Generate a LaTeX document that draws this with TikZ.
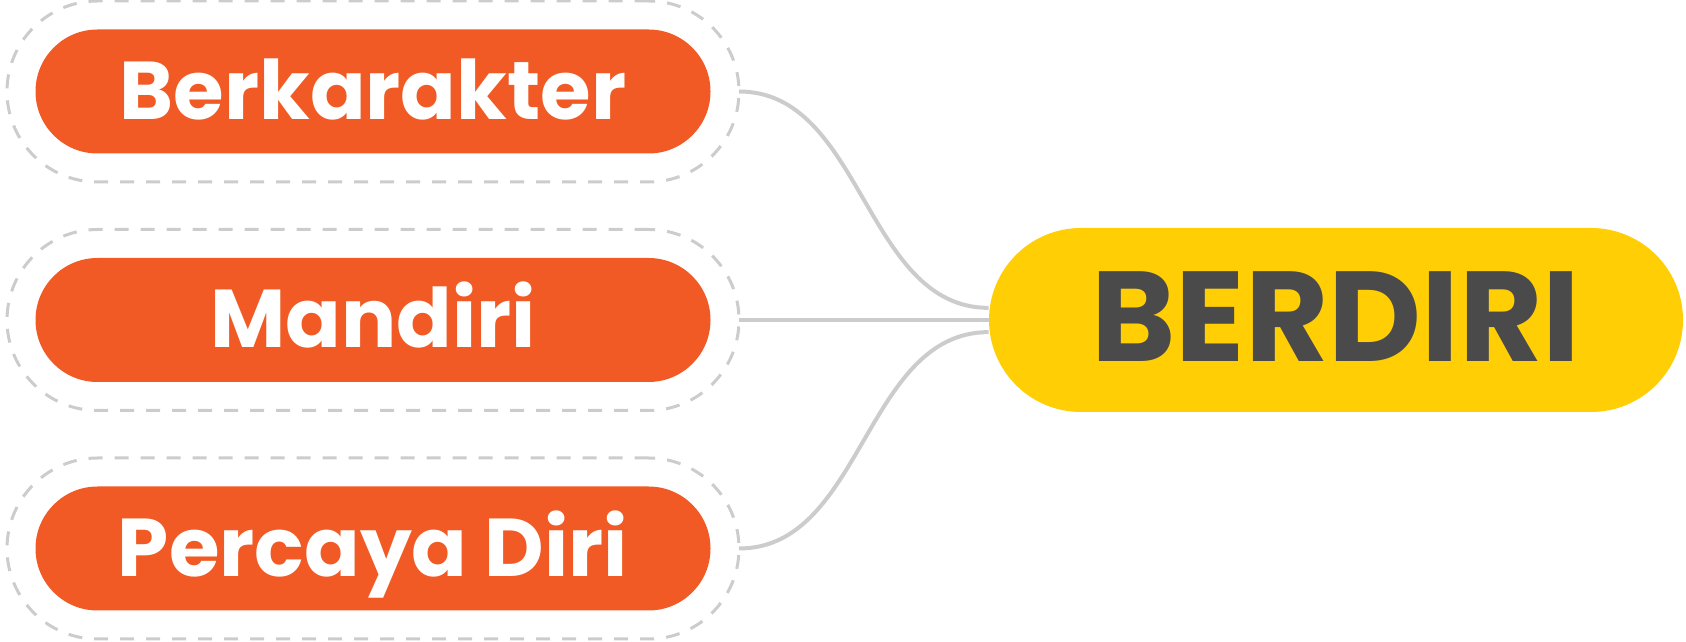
\documentclass[tikz,border=0pt]{standalone}
\usepackage{fontspec}
\setmainfont{Poppins}
\usetikzlibrary{fit}

\definecolor{leafred}{HTML}{F15A24}
\definecolor{rootyellow}{HTML}{FFCE05}
\definecolor{linegray}{HTML}{CCCCCC}
\definecolor{textgray}{HTML}{4A4A4A}

\tikzset{
  root/.style={fill=rootyellow, text=textgray, font=\fontsize{64}{64}\selectfont\bfseries,
    minimum width=347pt, minimum height=92pt, rounded corners=46pt, inner sep=0pt,
    text height=45pt, text depth=3pt},
  leaf/.style={fill=leafred, text=white, font=\fontsize{41}{41}\selectfont\bfseries,
    minimum width=337.5pt, minimum height=62pt, rounded corners=31pt, inner sep=0pt,
    text height=29pt, text depth=1pt, outer sep=14.25pt},
  ring/.style={draw=linegray, line width=1.5pt, dash pattern=on 7pt off 6pt,
    rounded corners=45.25pt, inner sep=0pt},
  link/.style={edge from parent path={(\tikzparentnode.#1) .. controls +(-62pt,0) and +(62pt,0) .. (\tikzchildnode.east)}},
}

\begin{document}
\begin{tikzpicture}
    \useasboundingbox (0,0) rectangle (843pt,321pt);
    \node[root] (berdiri) at (668pt,161pt) {BERDIRI}[grow=west, sibling distance=114.25pt, level distance=481.5pt,
      edge from parent/.style={draw=linegray, line width=2pt}]
    child[link=178] {node[leaf] (bk) {Berkarakter}}
    child[link=west] {node[leaf] (md) {Mandiri}}
    child[link=182] {node[leaf] (pd) {Percaya Diri}};
    % dashed rings round the leaves
    \node[ring, fit=(bk)] (bkring) {};
    \node[ring, fit=(md)] (mdring) {};
    \node[ring, fit=(pd)] (pdring) {};
  \end{tikzpicture}
\end{document}
